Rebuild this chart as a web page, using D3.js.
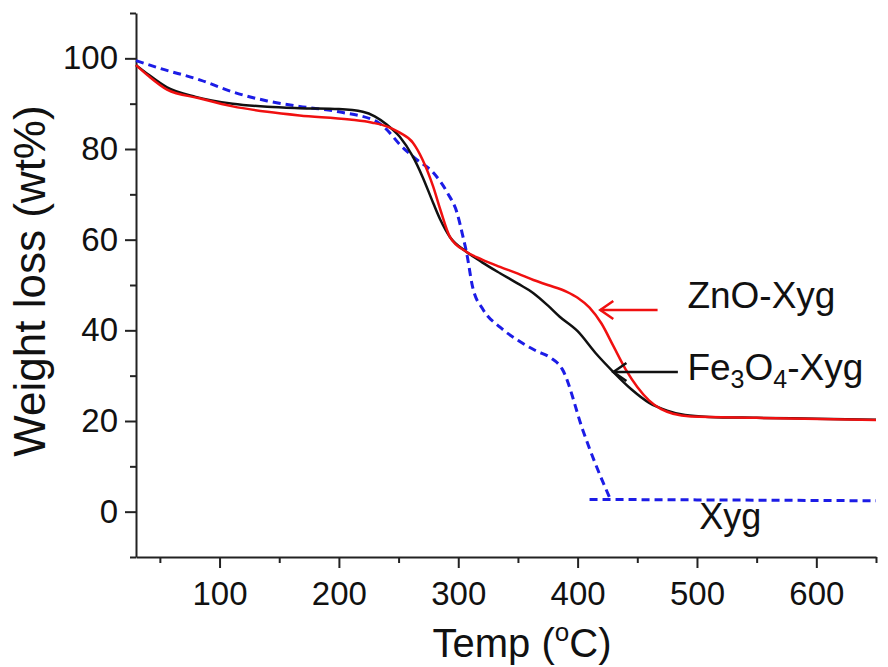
<!DOCTYPE html>
<html>
<head>
<meta charset="utf-8">
<script src="https://cdn.jsdelivr.net/npm/d3@7"></script>
<style>
  body { margin: 0; background: #fff; }
  svg { font-family: "Liberation Sans", Arial, sans-serif; }
</style>
</head>
<body>
<div id="chart"></div>
<script>
// TGA data (temperature in °C, weight in wt%)
const fe3o4Temp = [30, 40, 56, 80, 111, 140, 167, 200, 220, 230, 240, 251, 262, 270, 279, 285, 293, 307, 320, 335, 350, 363, 375, 385, 400, 415, 430, 445, 460, 475, 490, 510, 550, 600, 650];
const fe3o4Wt   = [98.5, 96.5, 93.6, 91.5, 90.0, 89.3, 89.0, 88.8, 88.2, 87.2, 85.4, 82.7, 78.3, 73.9, 68.1, 64.4, 60.6, 57.3, 55.0, 52.6, 50.3, 48.2, 45.5, 43.0, 39.8, 35.0, 30.8, 27.0, 24.0, 22.3, 21.3, 20.9, 20.7, 20.5, 20.3];

const znoTemp = [30, 40, 56, 83, 111, 140, 167, 209, 228, 240, 251, 262, 270, 279, 285, 293, 307, 320, 335, 350, 363, 375, 391, 400, 410, 420, 430, 440, 450, 460, 470, 480, 495, 550, 650];
const znoWt   = [98.5, 96.2, 93.1, 91.2, 89.4, 88.2, 87.4, 86.5, 85.8, 85.0, 83.6, 81.4, 77.7, 71.7, 66.6, 60.6, 57.3, 55.6, 54.0, 52.5, 51.1, 50.0, 48.5, 47.2, 45.0, 41.5, 36.5, 31.5, 27.5, 24.5, 22.6, 21.6, 21.0, 20.7, 20.2];

const xygTemp = [30, 50, 84, 111, 140, 167, 200, 232, 240, 251, 265, 279, 291, 299, 304, 307, 312, 321, 335, 350, 365, 377, 387, 405, 415, 427];
const xygWt   = [99.5, 97.8, 95.2, 92.6, 90.6, 89.4, 88.2, 86.0, 84.3, 81.0, 77.7, 74.8, 70.3, 65.9, 60.6, 57.1, 49.6, 44.5, 40.7, 37.8, 35.5, 34.0, 31.5, 17.5, 10.5, 3.0];

const xygResidueTemp = [410, 500, 650];
const xygResidueWt   = [2.7, 2.6, 2.4];

const xMajorTicks = [100, 200, 300, 400, 500, 600];
const xMinorTicks = [50, 150, 250, 350, 450, 550, 650];
const yMajorTicks = [0, 20, 40, 60, 80, 100];
const yMinorTicks = [-10, 10, 30, 50, 70, 90, 110];

// annotation positions in data units: [tipTemp, tailTemp, wt]
const znoArrow   = [419, 467, 44.5];
const fe3o4Arrow = [430, 484, 30.8];
const znoLabelPos   = [492, 44.9];
const fe3o4LabelPos = [492, 29.0];
const xygLabelPos   = [502, -3.8];

const width = 888, height = 667;

const svg = d3.select("#chart")
  .append("svg")
    .attr("width", width)
    .attr("height", height);

svg.append("rect").attr("width", width).attr("height", height).attr("fill", "#fff");

const x = d3.scaleLinear().domain([30, 650]).range([136, 876]);
const y = d3.scaleLinear().domain([-10, 110]).range([557, 13]);

const axisColor = "#222";

// minor ticks first
svg.append("g")
  .attr("transform", `translate(0, ${y(-10)})`)
  .call(d3.axisBottom(x).tickValues(xMinorTicks).tickSize(6).tickFormat(""))
  .call(g => g.select(".domain").remove());
svg.append("g")
  .attr("transform", `translate(${x(30)}, 0)`)
  .call(d3.axisLeft(y).tickValues(yMinorTicks).tickSize(6).tickFormat(""))
  .call(g => g.select(".domain").remove());

// X axis
const xAxis = svg.append("g")
  .attr("transform", `translate(0, ${y(-10)})`)
  .call(d3.axisBottom(x).tickValues(xMajorTicks).tickSize(11).tickSizeOuter(0));
xAxis.selectAll("text")
  .attr("y", 48).attr("dy", 0)
  .attr("font-size", "33px").attr("fill", "#111")
  .attr("font-family", "Liberation Sans, Arial, sans-serif");

// Y axis
const yAxis = svg.append("g")
  .attr("transform", `translate(${x(30)}, 0)`)
  .call(d3.axisLeft(y).tickValues(yMajorTicks).tickSize(11).tickSizeOuter(0));
yAxis.selectAll("text")
  .attr("x", -18)
  .attr("font-size", "33px").attr("fill", "#111")
  .attr("font-family", "Liberation Sans, Arial, sans-serif");

svg.selectAll(".domain, .tick line")
  .attr("stroke", axisColor)
  .attr("stroke-width", 2);

// axis titles
const xTitle = svg.append("text")
  .attr("x", 522)
  .attr("y", 657)
  .attr("text-anchor", "middle")
  .attr("font-size", "40px")
  .attr("fill", "#111");
xTitle.append("tspan").text("Temp (");
xTitle.append("tspan").attr("font-size", "26px").attr("dy", -16).text("o");
xTitle.append("tspan").attr("dy", 16).text("C)");

svg.append("text")
  .attr("transform", `translate(45, 281) rotate(-90)`)
  .attr("text-anchor", "middle")
  .attr("font-size", "44px")
  .attr("fill", "#111")
  .text("Weight loss (wt%)");

// lines
const line = d3.line()
  .x(d => x(d[0]))
  .y(d => y(d[1]))
  .curve(d3.curveMonotoneX);

const pairs = (t, w) => t.map((v, i) => [v, w[i]]);

svg.append("path")
  .datum(pairs(xygTemp, xygWt))
  .attr("d", line)
  .attr("fill", "none")
  .attr("stroke", "#1c1ce6")
  .attr("stroke-width", 3)
  .attr("stroke-dasharray", "8,5");

svg.append("path")
  .datum(pairs(xygResidueTemp, xygResidueWt))
  .attr("d", line)
  .attr("fill", "none")
  .attr("stroke", "#1c1ce6")
  .attr("stroke-width", 3)
  .attr("stroke-dasharray", "8,5");

svg.append("path")
  .datum(pairs(fe3o4Temp, fe3o4Wt))
  .attr("d", line)
  .attr("fill", "none")
  .attr("stroke", "#111")
  .attr("stroke-width", 2.5);

svg.append("path")
  .datum(pairs(znoTemp, znoWt))
  .attr("d", line)
  .attr("fill", "none")
  .attr("stroke", "#f01010")
  .attr("stroke-width", 2.5);

// arrows
function drawArrow(a, color) {
  const tipX = x(a[0]), tailX = x(a[1]), yy = y(a[2]);
  svg.append("line")
    .attr("x1", tipX).attr("x2", tailX)
    .attr("y1", yy).attr("y2", yy)
    .attr("stroke", color).attr("stroke-width", 2.5);
  svg.append("path")
    .attr("d", `M${tipX + 13},${yy - 9} L${tipX},${yy} L${tipX + 13},${yy + 9}`)
    .attr("fill", "none")
    .attr("stroke", color).attr("stroke-width", 2.5);
}
drawArrow(znoArrow, "#f01010");
drawArrow(fe3o4Arrow, "#111");

// labels
svg.append("text")
  .attr("x", x(znoLabelPos[0])).attr("y", y(znoLabelPos[1]))
  .attr("font-size", "37px").attr("fill", "#111")
  .text("ZnO-Xyg");

const feLabel = svg.append("text")
  .attr("x", x(fe3o4LabelPos[0])).attr("y", y(fe3o4LabelPos[1]))
  .attr("font-size", "37px").attr("fill", "#111");
feLabel.append("tspan").text("Fe");
feLabel.append("tspan").attr("font-size", "25px").attr("dy", 8).text("3");
feLabel.append("tspan").attr("dy", -8).text("O");
feLabel.append("tspan").attr("font-size", "25px").attr("dy", 8).text("4");
feLabel.append("tspan").attr("dy", -8).text("-Xyg");

svg.append("text")
  .attr("x", x(xygLabelPos[0])).attr("y", y(xygLabelPos[1]))
  .attr("font-size", "36px").attr("fill", "#111")
  .text("Xyg");
</script>
</body>
</html>
